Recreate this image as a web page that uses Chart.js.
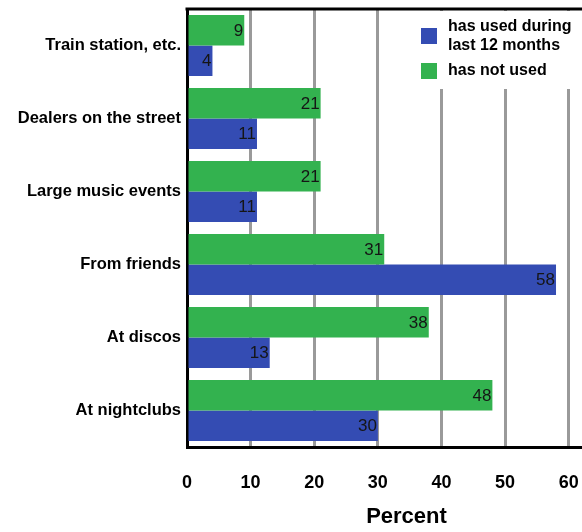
<!DOCTYPE html>
<html>
<head>
<meta charset="utf-8">
<script src="https://cdn.jsdelivr.net/npm/chart.js@4/dist/chart.umd.min.js"></script>
<style>
  html, body { margin: 0; padding: 0; background: #fff; overflow: hidden; }
  /* the plot runs a little past the right edge of the window */
  #wrap { width: 626px; height: 532px; position: relative; }
</style>
</head>
<body>
<div id="wrap"><canvas id="c"></canvas></div>
<script>
// Where ecstasy was obtained, by use during the last 12 months (percent)
const categories = ['Train station, etc.', 'Dealers on the street', 'Large music events', 'From friends', 'At discos', 'At nightclubs'];
const notUsed = [9, 21, 21, 31, 38, 48];
const usedLast12 = [4, 11, 11, 58, 13, 30];
const xTickValues = [0, 10, 20, 30, 40, 50, 60];
const usedLabel = ['has used during', 'last 12 months'];
const notUsedLabel = ['has not used'];
const axisTitle = 'Percent';

const BLUE = '#344cb3';
const GREEN = '#33b24f';
const FONT = "'Liberation Sans', Arial, sans-serif";

// Frame line along the top, the legend box and the value labels
const decorations = {
  id: 'decorations',
  afterDatasetsDraw(chart) {
    const { ctx, chartArea } = chart;
    ctx.save();

    // top frame line
    ctx.strokeStyle = '#000';
    ctx.lineWidth = 3;
    ctx.beginPath();
    ctx.moveTo(chartArea.left - 1.5, chartArea.top);
    ctx.lineTo(chart.width, chartArea.top);
    ctx.stroke();

    // value labels at the end of each bar
    ctx.font = '17px ' + FONT;
    ctx.fillStyle = '#151515';
    ctx.textAlign = 'right';
    ctx.textBaseline = 'middle';
    chart.data.datasets.forEach((ds, di) => {
      const meta = chart.getDatasetMeta(di);
      meta.data.forEach((bar, i) => {
        ctx.fillText(String(ds.data[i]), bar.x - 1, bar.y + 1);
      });
    });

    // legend
    const lx = 401, ly = chartArea.top + 2;
    ctx.fillStyle = '#fff';
    ctx.fillRect(lx, ly, chart.width - lx, 78);
    const entries = [
      { color: BLUE, lines: usedLabel, boxY: 28, textY: 27 },
      { color: GREEN, lines: notUsedLabel, boxY: 63, textY: 71 }
    ];
    ctx.font = 'bold 16px ' + FONT;
    ctx.textAlign = 'left';
    ctx.textBaseline = 'middle';
    entries.forEach(e => {
      ctx.fillStyle = e.color;
      ctx.fillRect(421, e.boxY, 16, 16);
      ctx.fillStyle = '#000';
      e.lines.forEach((t, k) => ctx.fillText(t, 448, e.textY + k * 19));
    });
    ctx.restore();
  }
};

new Chart(document.getElementById('c'), {
  type: 'bar',
  data: {
    labels: categories,
    datasets: [
      { label: notUsedLabel.join(' '), data: notUsed, backgroundColor: GREEN, borderWidth: 0 },
      { label: usedLabel.join(' '), data: usedLast12, backgroundColor: BLUE, borderWidth: 0 }
    ]
  },
  options: {
    indexAxis: 'y',
    responsive: true,
    maintainAspectRatio: false,
    animation: false,
    devicePixelRatio: 1,
    layout: { padding: { top: 9, right: 0, bottom: 0, left: 0 } },
    datasets: { bar: { categoryPercentage: 0.836, barPercentage: 1 } },
    plugins: { legend: { display: false }, tooltip: { enabled: false } },
    scales: {
      x: {
        min: 0,
        max: 69,
        afterBuildTicks(scale) {
          scale.ticks = xTickValues.map(v => ({ value: v }));
        },
        afterFit(scale) {
          scale.height = 85;
          scale.paddingLeft = 0;
          scale.paddingRight = 0;
        },
        grid: {
          color: ctx => (ctx.tick && ctx.tick.value === 0 ? 'rgba(0,0,0,0)' : '#9a9a9a'),
          lineWidth: 3,
          drawTicks: false
        },
        border: { color: '#000', width: 3 },
        ticks: {
          padding: 25,
          color: '#000',
          font: { family: FONT, size: 18, weight: 'bold' },
          maxRotation: 0
        },
        title: {
          display: true,
          text: axisTitle,
          color: '#000',
          font: { family: FONT, size: 22, weight: 'bold' },
          padding: { top: 0, bottom: 2 }
        }
      },
      y: {
        afterFit(scale) {
          scale.width = 187;
          scale.paddingTop = 0;
          scale.paddingBottom = 0;
        },
        grid: { display: false, drawTicks: false },
        border: { color: '#000', width: 3 },
        ticks: {
          padding: 6,
          color: '#000',
          font: { family: FONT, size: 16.5, weight: 'bold' }
        }
      }
    }
  },
  plugins: [decorations]
});
</script>
</body>
</html>
